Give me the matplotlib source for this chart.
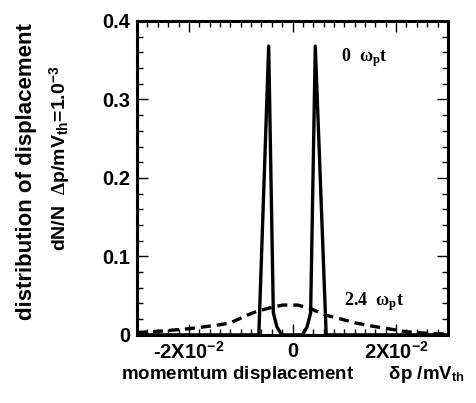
import matplotlib
matplotlib.use("Agg")
import matplotlib.pyplot as plt
from matplotlib.ticker import MultipleLocator, FixedLocator

plt.rcParams["font.family"] = ["Liberation Sans", "DejaVu Sans"]
plt.rcParams["font.weight"] = "bold"
plt.rcParams["mathtext.fontset"] = "custom"
plt.rcParams["mathtext.rm"] = "Liberation Serif:bold"
plt.rcParams["mathtext.it"] = "Liberation Serif:bold"
plt.rcParams["mathtext.bf"] = "Liberation Sans:bold"
plt.rcParams["mathtext.sf"] = "Liberation Sans:bold"

# momentum displacement distribution at 0 wp t (two narrow peaks)
dp_t0 = [-0.030, -0.0065, -0.0046, -0.0037, -0.0030, -0.0021,
         0.0019, 0.0028, 0.0035, 0.0044, 0.0065, 0.030]
dn_t0 = [0.0, 0.0, 0.368, 0.028, 0.010, 0.0,
         0.0, 0.010, 0.028, 0.368, 0.0, 0.0]

# distribution at 2.4 wp t (broad)
dp_t24 = [-0.030, -0.025, -0.0198, -0.0150, -0.0121, -0.0088, -0.0069,
          -0.0040, -0.0019, 0.0010, 0.0033, 0.0065, 0.0095, 0.0123,
          0.0155, 0.0187, 0.0220, 0.026, 0.030]
dn_t24 = [0.003, 0.005, 0.008, 0.012, 0.015, 0.025, 0.030,
          0.035, 0.038, 0.038, 0.034, 0.025, 0.020, 0.015,
          0.011, 0.0076, 0.004, 0.002, 0.001]

xticks = [-0.02, 0.0, 0.02]
xticklabels = [r"-2X10$^{\mathbf{-2}}$", "0", r"2X10$^{\mathbf{-2}}$"]
yticks = [0, 0.1, 0.2, 0.3, 0.4]
yticklabels = ["0", "0.1", "0.2", "0.3", "0.4"]

fig = plt.figure(figsize=(4.76, 4.03), dpi=100)
ax = fig.add_axes([0.288, 0.169, 0.653, 0.779])

ax.plot(dp_t0, dn_t0, color="black", linewidth=2.4)
ax.plot(dp_t24, dn_t24, color="black", linewidth=2.4, linestyle=(0, (3, 1.8)))

ax.set_xlim(-0.030, 0.030)
ax.set_ylim(0, 0.4)

ax.xaxis.set_major_locator(FixedLocator(xticks))
ax.set_xticklabels(xticklabels)
ax.xaxis.set_minor_locator(MultipleLocator(0.002))
ax.yaxis.set_major_locator(FixedLocator(yticks))
ax.set_yticklabels(yticklabels)
ax.yaxis.set_minor_locator(MultipleLocator(0.02))

ax.tick_params(which="both", direction="in", top=True, right=True,
               labelsize=14.5, width=1.0)
ax.tick_params(which="major", length=8, pad=5)
ax.tick_params(which="minor", length=4)
for sp in ax.spines.values():
    sp.set_linewidth(2.2)

ax.text(0.0094, 0.348, r"0  $\omega_{\mathrm{p}}$t", fontsize=13,
        fontfamily="Liberation Serif", fontweight="bold", va="baseline")
ax.text(0.0100, 0.038, r"2.4  $\omega_{\mathrm{p}}$t", fontsize=13,
        fontfamily="Liberation Serif", fontweight="bold", va="baseline")

# y label as two separate lines (different lengths in the original)
fig.text(27 / 476, 1 - 172 / 403, "distribution of displacement",
         rotation=90, fontsize=16, fontweight="bold", ha="center", va="center")
fig.text(60 / 476, 1 - 158 / 403,
         r"dN/N  $\Delta$p/mV$_{\mathbf{th}}$=1.0$^{\mathbf{-3}}$",
         rotation=90, fontsize=14, fontweight="bold", ha="center", va="center")

ax.set_xlabel(r"momemtum displacement       $\mathbf{\delta}$p /mV$_{\mathbf{th}}$",
              fontsize=13.5, fontweight="bold", labelpad=1)

fig.savefig("out.png", dpi=100)
plt.close(fig)
